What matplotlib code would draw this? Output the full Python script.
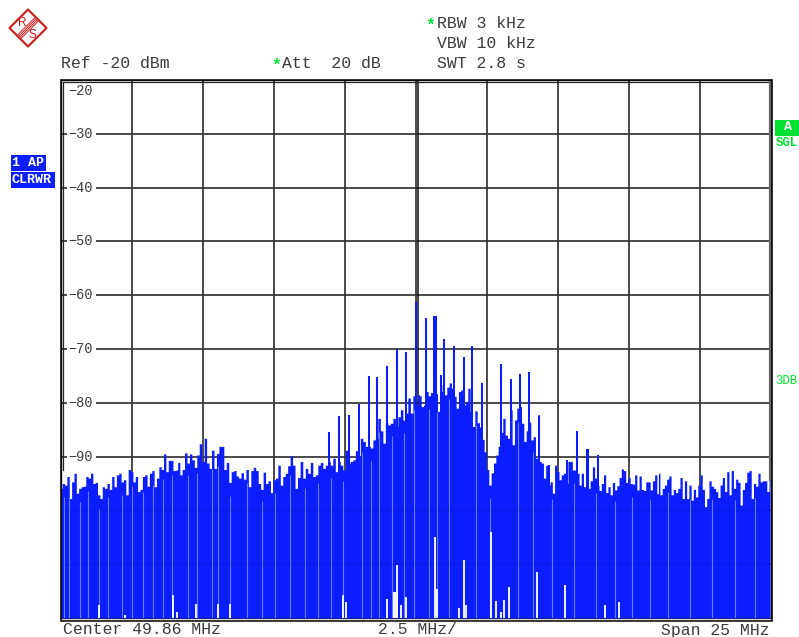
import numpy as np
import matplotlib
matplotlib.use("Agg")
import matplotlib.pyplot as plt
from matplotlib.patches import Polygon, Rectangle

# ---- data ----
floor_db = -120
seg_ranges_mhz = [(37.36, 41.51), (41.58, 45.73), (45.83, 49.97),
                  (50.00, 54.19), (54.23, 58.38), (58.41, 62.33)]
trace_a = [-95.9,-95.0,-95.3,-93.7,-97.8,-94.7,-93.1,-96.8,-95.9,-95.6,-95.5,-93.7,-94.0,-93.1,-95.0,-94.8,-97.1,
           -97.8,-95.6,-95.9,-95.0,-96.1,-93.7,-95.6,-93.4,-93.1,-94.7,-94.3,-97.1,-92.4,-92.8,-94.7,-93.7,-96.5,
           -96.1,-93.7,-93.4,-95.5,-93.1,-92.6,-95.6,-94.0,-91.9,-92.4,-89.5,-92.8,-90.7,-90.7,-92.6,-92.5,-91.1]
trace_b = [-93.4,-92.4,-89.3,-91.2,-89.5,-90.6,-92.0,-89.7,-87.6,-90.9,-86.6,-91.2,-92.2,-88.8,-92.2,-89.4,-88.1,
           -88.1,-92.4,-91.1,-94.8,-92.8,-92.6,-93.6,-94.0,-93.0,-94.2,-92.4,-95.6,-92.6,-92.0,-92.6,-95.0,-96.1,
           -92.9,-95.0,-94.5,-96.7,-94.3,-94.0,-91.6,-95.3,-93.7,-93.1,-91.7,-89.9,-91.6,-95.9,-93.9]
trace_c = [-90.9,-94.0,-92.2,-93.1,-91.1,-93.7,-93.4,-91.6,-91.1,-92.2,-91.6,-90.9,-91.6,-90.3,-92.8,-90.9,-91.6,
           -92.5,-88.8,-91.2,-90.9,-90.6,-88.9,-90.0,-86.6,-87.2,-88.1,-88.1,-88.4,-86.9,-86.6,-82.9,-85.2,-87.5,
           -83.7,-84.1,-83.8,-82.9,-84.4,-82.6,-81.3,-83.2,-81.9,-79.1,-81.9,-78.7,-80.4,-78.5]
trace_d = [-78.7,-80.7,-80.4,-77.9,-78.7,-78.1,-80.4,-78.3,-81.6,-77.9,-76.6,-78.5,-77.1,-76.3,-77.3,-78.8,-81.0,
           -77.9,-77.6,-80.4,-79.8,-77.3,-81.6,-84.4,-81.5,-83.7,-84.5,-86.8,-89.1,-92.4,-95.3,-93.0,-91.2,-89.7,
           -88.1,-85.5,-82.9,-86.0,-86.6,-81.3,-87.8,-83.2,-81.0,-80.7,-83.8,-87.2,-85.2,-83.6,-86.9,-86.3,-90.3,-82.2]
trace_e = [-90.9,-91.2,-94.0,-91.6,-95.3,-94.7,-96.8,-91.6,-92.8,-94.3,-93.4,-93.1,-95.0,-90.9,-90.9,-92.5,-92.5,
           -93.1,-95.3,-93.1,-95.6,-97.8,-95.9,-94.5,-91.9,-94.0,-95.4,-96.3,-95.0,-93.4,-96.7,-95.6,-97.1,-94.8,
           -96.2,-95.4,-93.9,-92.3,-92.6,-94.8,-93.9,-95.0,-95.1,-93.4,-96.2,-93.6,-96.1,-96.3,-94.7,-94.7,-96.2,-94.5,-93.4,-96.9]
trace_f = [-93.1,-97.1,-95.9,-95.3,-94.2,-93.6,-97.1,-96.1,-96.7,-95.9,-93.9,-97.8,-94.5,-97.8,-95.3,-98.1,-96.1,
           -97.5,-95.3,-93.4,-96.1,-99.3,-97.8,-94.5,-95.5,-95.9,-96.5,-97.6,-95.3,-93.9,-96.5,-92.8,-97.1,-92.6,
           -95.9,-94.2,-94.8,-99.0,-96.1,-94.8,-92.9,-92.6,-97.8,-95.0,-95.5,-93.1,-94.7,-94.5,-94.5,-96.5,-93.2]
segments = [trace_a, trace_b, trace_c, trace_d, trace_e, trace_f]

spur_mhz = [46.80,47.15,47.50,47.85,48.21,48.49,48.84,49.19,49.50,49.86,50.20,50.49,50.55,50.74,50.85,51.20,
            51.55,51.83,52.18,52.84,53.19,53.52,53.84,54.19,54.54,55.18,55.53,55.88,55.93,56.26]
spur_db = [-85.4,-82.4,-82.2,-80.2,-75.0,-75.2,-73.1,-70.0,-70.5,-61.2,-64.2,-63.9,-63.9,-74.8,-68.1,-69.4,
           -71.5,-69.4,-76.4,-72.8,-75.5,-74.7,-74.2,-82.4,-91.6,-90.7,-85.2,-88.6,-88.6,-89.7]

pale_mhz = [37.47,37.64,38.03,38.31,38.70,39.02,39.51,39.86,40.25,40.60,40.95,41.27,41.83,42.15,42.68,42.89,43.31,
            43.91,44.44,44.90,45.42,45.95,46.41,46.87,47.29,47.96,48.28,48.56,49.01,49.44,49.79,50.32,50.60,51.02,
            51.97,52.47,53.45,53.98,54.65,55.42,56.20,56.87,57.47,58.10,58.73,59.51,60.28,61.09,61.80]

gap_mhz = [47.30,47.40,48.83,49.07,49.13,49.19,49.20,49.33,49.51,50.53,50.59,51.55,51.62,51.38,52.50,52.68,52.84,
           52.96,53.12,38.70,39.61,41.29,41.43,42.11,42.89,43.31,55.11,54.11,56.50,57.00]
gap_db = [-115.7,-117.0,-116.5,-115.2,-115.2,-115.2,-110.1,-117.6,-116.1,-105.0,-114.6,-109.2,-117.6,-118.1,-104.0,
          -116.8,-118.9,-116.6,-114.2,-117.6,-119.4,-115.7,-118.9,-117.4,-117.4,-117.4,-113.9,-111.5,-117.5,-117.0]

ref_labels = ["-20", "-30", "-40", "-50", "-60", "-70", "-80", "-90"]
ref_levels = [-20, -30, -40, -50, -60, -70, -80, -90]
grid_db = [-30, -40, -50, -60, -70, -80, -90, -100, -110]
center_mhz = 49.86
span_mhz = 25.0
div_mhz = 2.5

# ---- figure ----
W, H = 799, 637
fig = plt.figure(figsize=(W / 100, H / 100), dpi=100, facecolor="white")
L, R, T, B = 61, 771, 80, 618
ax = fig.add_axes([L / W, 1 - B / H, (R - L) / W, (B - T) / H])
x0 = center_mhz - span_mhz / 2
ax.set_xlim(x0, x0 + span_mhz)
ax.set_ylim(floor_db, -20)
ax.set_xticks([x0 + div_mhz * i for i in range(1, 10)])
ax.set_yticks(grid_db)
ax.tick_params(length=0, labelbottom=False, labelleft=False)
ax.grid(True, color="#333333", lw=1.25, zorder=1)
ax.set_axisbelow(True)
for s in ax.spines.values():
    s.set_color("#222222")
    s.set_linewidth(1.0)
ax.axvline(center_mhz + 0.07, color="#111111", lw=1.1, zorder=1.5)

BLUE = "#0a1eff"
all_f = np.concatenate([np.linspace(a, b, len(v)) for (a, b), v in zip(seg_ranges_mhz, segments)])
all_v = np.concatenate(segments)
ax.fill_between(all_f, floor_db, all_v, step="mid", color=BLUE, lw=0, zorder=3)
ax.vlines(spur_mhz, floor_db, spur_db, colors=BLUE, lw=1.45, zorder=3)
ax.vlines(pale_mhz, floor_db, np.interp(pale_mhz, all_f, all_v) - 2.5,
          colors="#6a7dff", lw=0.8, zorder=3.2)
ax.vlines(gap_mhz, floor_db, gap_db, colors="white", lw=1.3, zorder=3.4)
for g in grid_db:
    if g <= -100:
        ax.axhline(g, color="#0014a8", lw=1.0, alpha=0.2, zorder=3.3)

# ---- overlay in pixel coordinates ----
ov = fig.add_axes([0, 0, 1, 1], facecolor="none", zorder=5)
ov.set_xlim(0, W)
ov.set_ylim(H, 0)
ov.axis("off")

# frames
ov.add_patch(Rectangle((60.5, 79.5), 711.5, 541, fill=False, ec="black", lw=1.1))
ov.plot([62.5, 62.5], [81.5, 470], color="#222222", lw=0.9)
ov.plot([62.5, 770], [81.5, 81.5], color="#222222", lw=0.9)
ov.plot([770.3, 770.3], [81.5, 480], color="#666666", lw=1.6)

MONO = "Liberation Mono"
TXT = "#3c3c3c"
FS = 11.9

# level labels inside the grid
for lab, lev in zip(ref_labels, ref_levels):
    y = T + (lev - (-20)) * (B - T) / -100.0
    yy = 91 if lev == -20 else y
    ov.add_patch(Rectangle((67, yy - 6), 29, 12, fc="white", ec="none", zorder=1))
    ov.text(68, yy, lab.replace("-", "\u2212"), family=MONO, fontsize=9.8, color=TXT,
            va="center", ha="left", zorder=2)

# header
ov.text(61, 64, "Ref -20 dBm", family=MONO, fontsize=FS, color=TXT, va="center")
ov.text(282, 64, "Att  20 dB", family=MONO, fontsize=FS, color=TXT, va="center")
ov.text(437, 24, "RBW 3 kHz", family=MONO, fontsize=FS, color=TXT, va="center")
ov.text(437, 44, "VBW 10 kHz", family=MONO, fontsize=FS, color=TXT, va="center")
ov.text(437, 64, "SWT 2.8 s", family=MONO, fontsize=FS, color=TXT, va="center")
GREEN = "#00e030"
ov.text(276, 65, "*", family=MONO, fontsize=FS, color=GREEN, va="center", ha="center", fontweight="bold")
ov.text(430, 25, "*", family=MONO, fontsize=FS, color=GREEN, va="center", ha="center", fontweight="bold")

# footer
ov.text(63, 634.5, "Center 49.86 MHz", family=MONO, fontsize=FS, color=TXT, va="baseline")
ov.text(378, 634.5, "2.5 MHz/", family=MONO, fontsize=FS, color=TXT, va="baseline")
ov.text(661, 634.5, "Span 25 MHz", family=MONO, fontsize=FS, color=TXT, va="baseline")

# side badges
SMALL = 9.6
ov.add_patch(Rectangle((11, 155), 35, 16, fc="#0a1eff", ec="none"))
ov.add_patch(Rectangle((11, 172), 44, 16, fc="#0a1eff", ec="none"))
ov.text(12, 163, "1 AP", family=MONO, fontsize=SMALL, color="white", va="center", fontweight="bold")
ov.text(12, 180, "CLRWR", family=MONO, fontsize=SMALL, color="white", va="center", fontweight="bold")
ov.add_patch(Rectangle((775, 120), 24, 16, fc=GREEN, ec="none"))
ov.text(788, 127, "A", family=MONO, fontsize=SMALL, color="white", va="center", ha="center", fontweight="bold")
ov.text(775.5, 143.5, "SGL", family=MONO, fontsize=8.8, color=GREEN, va="center", fontweight="bold")
ov.text(775.5, 381.5, "3DB", family=MONO, fontsize=8.8, color=GREEN, va="center")

# logo
RED = "#cc1a1a"
cx, cy, r = 28, 28, 18.5
ov.add_patch(Polygon([(cx - r, cy), (cx, cy - r), (cx + r, cy), (cx, cy + r)], closed=True,
                     fill=False, ec=RED, lw=1.5, joinstyle="round"))
for d in (-2.4, -0.8, 0.8, 2.4):
    ov.plot([cx - r / 2 + d / 1.4, cx + r / 2 + d / 1.4], [cy + r / 2 + d / 1.4, cy - r / 2 + d / 1.4],
            color=RED, lw=0.7)
ov.text(22.5, 23, "R", family="Liberation Sans", fontsize=8.5, color=RED, va="center", ha="center")
ov.text(32.5, 35, "S", family="Liberation Sans", fontsize=8.5, color=RED, va="center", ha="center")

fig.savefig("out.png", dpi=100, facecolor="white")
